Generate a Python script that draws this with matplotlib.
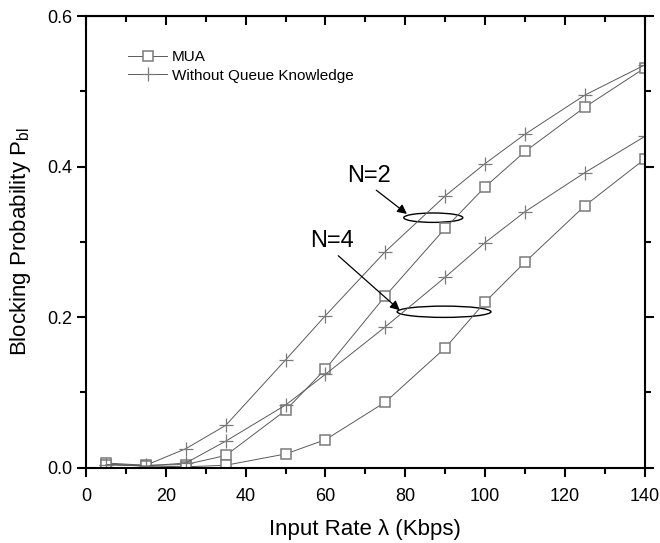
import matplotlib
matplotlib.use("Agg")
import matplotlib.pyplot as plt
from matplotlib.patches import Ellipse
from matplotlib.ticker import MultipleLocator

plt.rcParams["font.family"] = ["Liberation Sans", "DejaVu Sans"]
plt.rcParams["mathtext.fontset"] = "custom"
plt.rcParams["mathtext.rm"] = "Liberation Sans"
plt.rcParams["mathtext.it"] = "Liberation Sans"

# Input rate (Kbps)
rate = [5, 15, 25, 35, 50, 60, 75, 90, 100, 110, 125, 140]

# N=2
mua_n2 = [0.006, 0.003, 0.004, 0.016, 0.076, 0.131, 0.228, 0.318, 0.373, 0.420, 0.479, 0.531]
noq_n2 = [0.004, 0.003, 0.025, 0.056, 0.143, 0.202, 0.287, 0.361, 0.404, 0.443, 0.495, 0.535]
# N=4
mua_n4 = [0.004, 0.002, 0.001, 0.003, 0.018, 0.037, 0.087, 0.159, 0.220, 0.273, 0.348, 0.410]
noq_n4 = [0.004, 0.002, 0.006, 0.035, 0.083, 0.124, 0.187, 0.253, 0.299, 0.340, 0.392, 0.440]

line_color = "#5a5a5a"
marker_color = "#7a7a7a"

fig = plt.figure(figsize=(6.6, 5.43), dpi=100)
ax = fig.add_axes([0.1303, 0.139, 0.8467, 0.8315])

square_style = dict(color=line_color, linewidth=0.7, marker="s", markersize=7.5,
                    markerfacecolor="white", markeredgecolor=marker_color,
                    markeredgewidth=1.1)
plus_style = dict(color=line_color, linewidth=0.7, marker="+", markersize=10,
                  markeredgecolor=marker_color, markeredgewidth=0.9)

ax.plot(rate, mua_n2, label="MUA", **square_style)
ax.plot(rate, noq_n2, label="Without Queue Knowledge", **plus_style)
ax.plot(rate, mua_n4, **square_style)
ax.plot(rate, noq_n4, **plus_style)

# annotations: ellipses grouping the N=2 and N=4 curves
ax.add_patch(Ellipse((87.0, 0.332), 14.8, 0.0125, fill=False, edgecolor="black", linewidth=1.0))
ax.add_patch(Ellipse((89.7, 0.207), 23.5, 0.015, fill=False, edgecolor="black", linewidth=1.0))
arrow = dict(arrowstyle="-|>", color="black", linewidth=0.9,
             mutation_scale=14, shrinkA=1, shrinkB=0, relpos=(0.55, 0.0))
ax.annotate("N=2", xy=(80.4, 0.337), xytext=(71.0, 0.388), fontsize=17,
            ha="center", va="center", arrowprops=arrow)
ax.annotate("N=4", xy=(78.6, 0.209), xytext=(61.6, 0.301), fontsize=17,
            ha="center", va="center", arrowprops=arrow)

ax.set_xlim(0, 140)
ax.set_ylim(0, 0.6)
ax.xaxis.set_major_locator(MultipleLocator(20))
ax.xaxis.set_minor_locator(MultipleLocator(10))
ax.yaxis.set_major_locator(MultipleLocator(0.2))
ax.yaxis.set_minor_locator(MultipleLocator(0.1))
ax.yaxis.set_major_formatter(matplotlib.ticker.FormatStrFormatter("%.1f"))

for spine in ax.spines.values():
    spine.set_linewidth(1.5)

ax.tick_params(which="both", direction="out", width=1.5, labelsize=13,
               right=True, top=False)
ax.tick_params(which="major", length=6.5)
ax.tick_params(which="minor", length=4)
ax.tick_params(axis="x", which="major", pad=8)
ax.tick_params(axis="y", which="both", labelright=False)

top = ax.secondary_xaxis("top")
top.xaxis.set_major_locator(MultipleLocator(20))
top.xaxis.set_minor_locator(MultipleLocator(10))
top.tick_params(which="both", direction="in", width=1.5, labeltop=False)
top.tick_params(which="major", length=6.5)
top.tick_params(which="minor", length=4)

ax.set_xlabel("Input Rate \u03bb (Kbps)", fontsize=16, labelpad=10)
ax.set_ylabel("Blocking Probability P$_{\\mathrm{bl}}$", fontsize=16, labelpad=10)

ax.legend(loc="upper left", bbox_to_anchor=(0.05, 0.955), frameon=False,
          fontsize=11, handlelength=2.6, handletextpad=0.3, labelspacing=0.3)

fig.savefig("out.png", dpi=100)
